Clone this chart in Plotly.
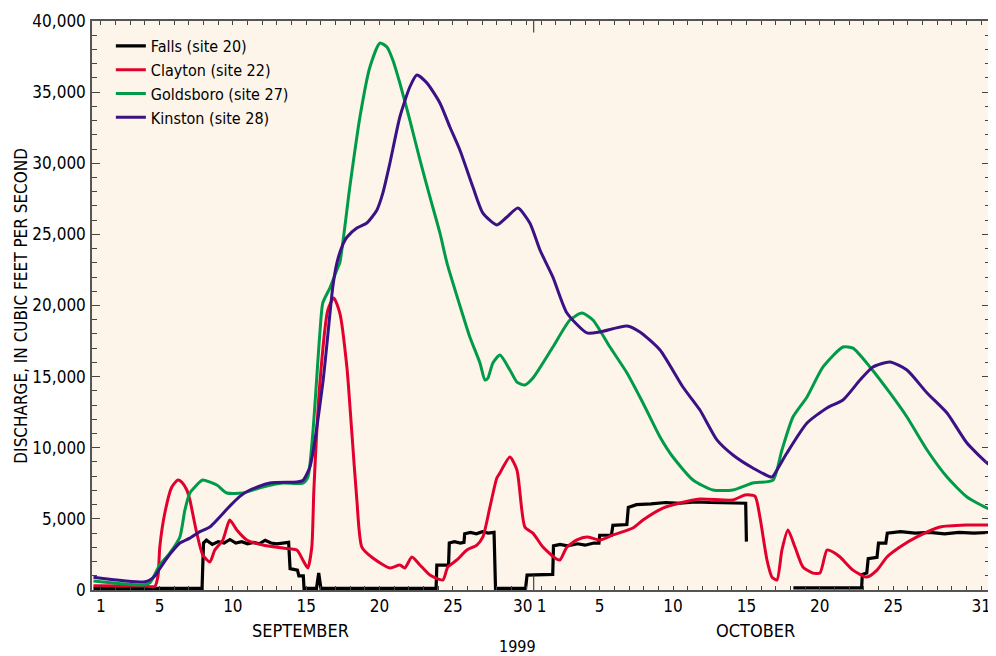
import plotly.graph_objects as go

# ---- data (x = day number, Sep 1 = 1, Oct 1 = 31, Oct 31 = 61) ----
falls_t = [0.5, 7.9, 8.0, 8.2, 8.6, 9.0, 9.4, 9.8, 10.2, 10.6, 11.0, 11.4, 11.8, 12.2, 12.6, 13.0, 13.4, 13.8,
           13.9, 14.4, 14.5, 14.8, 14.85, 15.7, 15.85, 16.0, 23.85, 23.9, 24.7, 24.75, 25.1, 25.5, 25.75,
           25.8, 26.2, 26.6, 27.0, 27.4, 27.8, 27.9, 29.95, 30.05, 31.8, 31.85, 32.3, 32.8, 33.5, 34.0, 34.6,
           34.95, 35.0, 35.8, 35.9, 36.85, 36.95, 37.5, 38.5, 39.5, 40.5, 41.5, 42.5, 43.5, 44.5, 44.95, 45.0,
           45.05, 48.2, 52.85, 52.9, 53.2, 53.3, 53.9, 54.0, 54.5, 54.6, 55.5, 56.5, 57.5, 58.5, 59.5, 60.5, 61.6]
falls_q = [120, 120, 3300, 3500, 3200, 3400, 3300, 3550, 3300, 3400, 3250, 3350, 3250, 3500, 3300, 3250, 3300, 3350,
           1500, 1400, 1000, 1000, 120, 120, 1200, 120, 120, 1750, 1750, 3300, 3400, 3300, 3350,
           3950, 4050, 3950, 4100, 4000, 4050, 120, 120, 1050, 1100, 3100, 3200, 3100, 3250, 3150, 3300,
           3300, 3850, 3850, 4550, 4600, 5800, 6000, 6050, 6150, 6100, 6200, 6150, 6150, 6100, 6100, 3400,
           None, 150, 150, 1100, 1200, 2200, 2300, 3300, 3300, 4000, 4100, 4000, 4050, 3950, 4050, 4000, 4050]

clayton_t = [0.5, 3.9, 4.68, 4.9, 5.02, 5.36, 5.84, 6.25, 6.5, 6.86, 7.07, 7.54, 7.95, 8.43, 8.77, 9.32, 9.79,
             10.27, 10.95, 12.04, 13.41, 14.36, 14.77, 15.11, 15.38, 15.52, 15.93, 16.47, 16.88, 17.29, 17.77,
             18.11, 18.45, 18.79, 19.54, 20.7, 21.38, 21.72, 22.2, 22.75, 23.43, 24.31, 24.65, 25.27, 25.95,
             26.63, 27.04, 27.52, 27.99, 28.2, 28.88, 29.36, 29.9, 30.45, 31.13, 31.95, 32.29, 32.77, 33.45,
             34.13, 35.02, 35.9, 37.26, 37.95, 39.31, 40.47, 41.83, 44.08, 44.9, 45.58, 45.92, 46.4, 46.74,
             47.08, 47.42, 47.83, 48.31, 48.85, 49.53, 50.01, 50.49, 50.9, 51.38, 52.26, 53.21, 53.9, 54.58,
             55.46, 56.62, 58.19, 60.03, 61.6]
clayton_q = [300, 280, 250, 1000, 3020, 5400, 7240, 7730, 7600, 7030, 6330, 4000, 2460, 1970, 2810, 3520, 4920,
             4220, 3520, 3160, 2950, 2810, 2110, 1550, 3020, 7000, 14550, 19680, 20530, 19470, 15680,
             11040, 6330, 3020, 2250, 1550, 1760, 1550, 2320, 1760, 1050, 700, 1620, 2110, 2810,
             3160, 3730, 5830, 7870, 8230, 9350, 8440, 4430, 4000, 3020, 2250, 2110, 3020, 3520,
             3730, 3520, 3870, 4360, 4920, 5760, 6120, 6400, 6330, 6680, 6600, 5130, 2110, 910,
             700, 2810, 4220, 3020, 1620, 1190, 1190, 2810, 2670, 2320, 1400, 910, 1400, 2320,
             3020, 3730, 4430, 4570, 4570]

goldsboro_t = [0.5, 3.9, 4.34, 5.02, 5.7, 6.39, 6.73, 7.07, 7.75, 7.95, 8.91, 9.59, 10.68, 12.04, 13.41, 14.77,
               15.11, 15.45, 15.93, 16.13, 16.61, 17.16, 17.29, 17.97, 18.66, 19.34, 20.02, 20.5, 20.9, 21.38,
               22.06, 22.75, 23.43, 24.11, 24.59, 25.47, 26.15, 26.84, 27.18, 27.38, 27.72, 28.2, 28.88, 29.36,
               29.9, 30.45, 31.81, 32.97, 33.79, 34.54, 35.7, 36.86, 37.95, 39.11, 39.99, 41.36, 42.72, 44.08,
               45.44, 46.81, 47.42, 48.17, 49.13, 50.22, 51.58, 52.26, 53.42, 54.78, 55.94, 57.31, 58.67, 60.03,
               61.4, 61.6]
goldsboro_q = [630, 350, 500, 1760, 2600, 3730, 5620, 6820, 7600, 7730, 7380, 6820, 6820, 7240, 7520, 7520,
               7940, 11040, 18070, 20180, 21230, 22700, 23000, 28330, 33250, 36770, 38450, 38170, 37260, 35640,
               33040, 30230, 27630, 25100, 23000, 20000, 17790, 15960, 14760, 14900, 15960, 16520, 15470, 14620,
               14410, 14900, 17080, 18980, 19470, 18980, 17080, 15260, 13150, 10760, 9350, 7730, 7030, 7030,
               7520, 7730, 9840, 12160, 13570, 15680, 17080, 17000, 15680, 13850, 12160, 9840, 7940, 6540,
               5760, 5700]

kinston_t = [0.5, 3.9, 4.34, 4.7, 5.02, 5.7, 6.39, 7.07, 7.75, 8.43, 9.79, 10.5, 11.16, 12.52, 14.36, 14.77,
             15.25, 16.13, 16.81, 17.09, 17.5, 17.77, 18.45, 19.13, 19.81, 20.22, 20.7, 21.38, 22.06, 22.54,
             23.22, 24.11, 24.79, 25.47, 26.36, 27.04, 27.99, 28.68, 29.43, 30.24, 30.93, 31.81, 32.77, 34.13,
             35.02, 36.86, 37.74, 39.11, 40.67, 41.83, 42.99, 44.08, 45.44, 46.74, 47.08, 47.76, 49.13, 50.49,
             51.58, 52.74, 53.62, 54.78, 55.94, 57.31, 58.67, 60.03, 61.4, 61.6]
kinston_q = [900, 560, 700, 1000, 1500, 2500, 3300, 3650, 4100, 4430, 5900, 6600, 7030, 7520, 7590, 7700,
             8650, 14550, 21300, 23000, 24300, 24800, 25450, 25800, 26700, 27900, 30000, 33250, 35360, 36200,
             35650, 34240, 32550, 30930, 28330, 26500, 25660, 26220, 26850, 25800, 23900, 22000, 19470, 18070,
             18140, 18560, 18140, 16870, 14270, 12650, 10550, 9490, 8580, 7940, 8440, 9630, 11740, 12800,
             13360, 14760, 15680, 16030, 15470, 13850, 12440, 10330, 8930, 8800]

# label positions (day numbers); the "30" label sits slightly left of its tick as in the original
label_days = [1, 5, 10, 15, 20, 25, 29.75, 31.05, 35, 40, 45, 50, 55, 61]
label_text = ["1", "5", "10", "15", "20", "25", "30", "1", "5", "10", "15", "20", "25", "31"]
minor_days = list(range(1, 62))
y_ticks = [0, 5000, 10000, 15000, 20000, 25000, 30000, 35000, 40000]
month_boundary = 30.5

FONT = "DejaVu Sans Condensed, Liberation Sans Narrow, Arial Narrow, sans-serif"

fig = go.Figure()
fig.add_trace(go.Scatter(x=falls_t, y=falls_q, mode="lines", name="Falls (site 20)",
                         line=dict(color="#000000", width=3.2), connectgaps=False))
fig.add_trace(go.Scatter(x=clayton_t, y=clayton_q, mode="lines", name="Clayton (site 22)",
                         line=dict(color="#E2012D", width=3, shape="spline", smoothing=0.6)))
fig.add_trace(go.Scatter(x=goldsboro_t, y=goldsboro_q, mode="lines", name="Goldsboro (site 27)",
                         line=dict(color="#009B48", width=3, shape="spline", smoothing=0.6)))
fig.add_trace(go.Scatter(x=kinston_t, y=kinston_q, mode="lines", name="Kinston (site 28)",
                         line=dict(color="#3A1285", width=3, shape="spline", smoothing=0.6)))

# month boundary ticks
fig.add_shape(type="line", xref="x", yref="paper", x0=month_boundary, x1=month_boundary, y0=0, y1=0.026,
              line=dict(color="#444444", width=1.2))
fig.add_shape(type="line", xref="x", yref="paper", x0=month_boundary, x1=month_boundary, y0=1, y1=0.98,
              line=dict(color="#444444", width=1.2))

fig.add_annotation(text="SEPTEMBER", x=14.6, y=-0.072, xref="x", yref="paper", showarrow=False,
                   xanchor="center", yanchor="middle", font=dict(family=FONT, size=18, color="#000"))
fig.add_annotation(text="OCTOBER", x=45.6, y=-0.072, xref="x", yref="paper", showarrow=False,
                   xanchor="center", yanchor="middle", font=dict(family=FONT, size=18, color="#000"))
fig.add_annotation(text="1999", x=29.4, y=-0.1, xref="x", yref="paper", showarrow=False,
                   xanchor="center", yanchor="middle", font=dict(family=FONT, size=16, color="#000"))
fig.add_annotation(text="DISCHARGE, IN CUBIC FEET PER SECOND", x=-0.08, y=0.5, xref="paper", yref="paper",
                   showarrow=False, textangle=-90, xanchor="center", yanchor="middle",
                   font=dict(family=FONT, size=17, color="#000"))

# the page body adds an 8px margin, so the figure is 8px smaller and the margins are shifted
fig.update_layout(
    width=988, height=648,
    margin=dict(l=84, r=6, t=13, b=66, autoexpand=False),
    paper_bgcolor="white",
    plot_bgcolor="#FDF5E9",
    font=dict(family=FONT, size=16, color="#000"),
    showlegend=True,
    legend=dict(x=0.021, y=0.986, xanchor="left", yanchor="top", bgcolor="rgba(0,0,0,0)",
                font=dict(family=FONT, size=16, color="#000"), itemwidth=30, tracegroupgap=0),
    xaxis=dict(range=[0.4, 61.6], tickmode="array", tickvals=label_days, ticktext=label_text,
               ticks="", showgrid=False, zeroline=False,
               showline=True, linecolor="#555", linewidth=1.5, mirror="ticks", automargin=False,
               tickangle=0, tickfont=dict(family=FONT, size=17),
               minor=dict(tickmode="array", tickvals=minor_days, ticks="inside", ticklen=4, tickcolor="#444",
                          showgrid=False)),
    yaxis=dict(range=[0, 40000], tickmode="array", tickvals=y_ticks, tickformat=",d",
               ticks="inside", ticklen=8, tickcolor="#444", showgrid=False, zeroline=False,
               showline=True, linecolor="#555", linewidth=1.5, mirror="ticks", automargin=False,
               tickfont=dict(family=FONT, size=17), ticklabelstandoff=1,
               minor=dict(dtick=1000, tick0=0, ticks="inside", ticklen=5, tickcolor="#444", showgrid=False)),
)

fig.write_html("out.html")
